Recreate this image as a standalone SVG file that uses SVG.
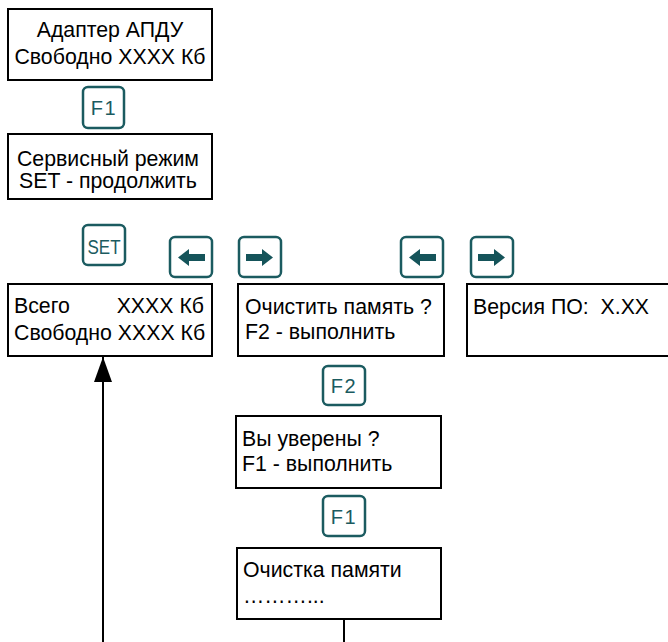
<svg xmlns="http://www.w3.org/2000/svg" width="668" height="642" viewBox="0 0 668 642">
<style>
.box{fill:#fff;stroke:#000;stroke-width:2}
.t{font-family:"Liberation Sans",Arial,sans-serif;font-size:21.3px;fill:#000}
.c{text-anchor:middle}
.key{fill:#fff;stroke:#1b5b60;stroke-width:2.5}
.kt{font-family:"Liberation Sans",Arial,sans-serif;font-size:20px;fill:#1b5b60;text-anchor:middle}
.ar{fill:#15545a}
.ln{stroke:#000;stroke-width:2;fill:none}
</style>
<defs>
<marker id="ah" viewBox="0 0 25 18" refX="25" refY="9" markerWidth="25" markerHeight="18" markerUnits="userSpaceOnUse" orient="auto">
<path d="M0,0 L25,9 L0,18 Z" fill="#000"/>
</marker>
<g id="kL"><rect class="key" x="0" y="0" width="42" height="40" rx="5"/><path class="ar" d="M8,20.5 L19,12 L19,17 L35,17 L35,24 L19,24 L19,29 Z"/></g>
<g id="kR"><rect class="key" x="0" y="0" width="42" height="40" rx="5"/><path class="ar" d="M34,20.5 L23,12 L23,17 L7,17 L7,24 L23,24 L23,29 Z"/></g>
</defs>

<g id="connectors">
<path class="ln" d="M103,642 V357" marker-end="url(#ah)"/>
<path class="ln" d="M344,619 V642"/>
</g>

<g id="node-adapter">
<rect class="box" x="8" y="9" width="204" height="71"/>
<text class="t c" x="110" y="37">Адаптер АПДУ</text>
<text class="t c" x="110" y="64">Свободно XXXX Кб</text>
</g>

<g id="key-f1-top">
<rect class="key" x="83" y="87" width="41" height="41" rx="5"/>
<text class="kt" x="104" y="115" letter-spacing="1.5">F1</text>
</g>

<g id="node-service">
<rect class="box" x="8" y="134" width="204" height="65"/>
<text class="t c" x="108" y="166">Сервисный режим</text>
<text class="t c" x="108" y="188">SET - продолжить</text>
</g>

<g id="key-set">
<rect class="key" x="83" y="225" width="42" height="40" rx="5"/>
<text class="kt" x="104" y="254" font-size="25" textLength="33" lengthAdjust="spacingAndGlyphs">SET</text>
</g>

<g id="key-left-1"><use href="#kL" x="170" y="237"/></g>
<g id="key-right-1"><use href="#kR" x="239" y="237"/></g>
<g id="key-left-2"><use href="#kL" x="401" y="237"/></g>
<g id="key-right-2"><use href="#kR" x="471" y="237"/></g>

<g id="node-total">
<rect class="box" x="8" y="284" width="204" height="72"/>
<text class="t" x="14" y="313">Всего</text>
<text class="t" x="204" y="313" text-anchor="end">XXXX Кб</text>
<text class="t" x="14" y="340">Свободно XXXX Кб</text>
</g>

<g id="node-clear">
<rect class="box" x="238" y="284" width="206" height="72"/>
<text class="t" x="245" y="314">Очистить память ?</text>
<text class="t" x="245" y="339">F2 - выполнить</text>
</g>

<g id="node-version">
<rect class="box" x="467" y="284" width="220" height="72"/>
<text class="t" x="473" y="314" xml:space="preserve">Версия ПО:  X.XX</text>
</g>

<g id="key-f2">
<rect class="key" x="323" y="366" width="42" height="39" rx="5"/>
<text class="kt" x="344" y="393" letter-spacing="1.5">F2</text>
</g>

<g id="node-sure">
<rect class="box" x="236" y="416" width="205" height="72"/>
<text class="t" x="242" y="446">Вы уверены ?</text>
<text class="t" x="242" y="471">F1 - выполнить</text>
</g>

<g id="key-f1-bottom">
<rect class="key" x="323" y="496" width="42" height="40" rx="5"/>
<text class="kt" x="344" y="524" letter-spacing="1.5">F1</text>
</g>

<g id="node-clearing">
<rect class="box" x="237" y="548" width="204" height="71"/>
<text class="t" x="243" y="577">Очистка памяти</text>
<text class="t" x="243" y="603">………...</text>
</g>
</svg>
